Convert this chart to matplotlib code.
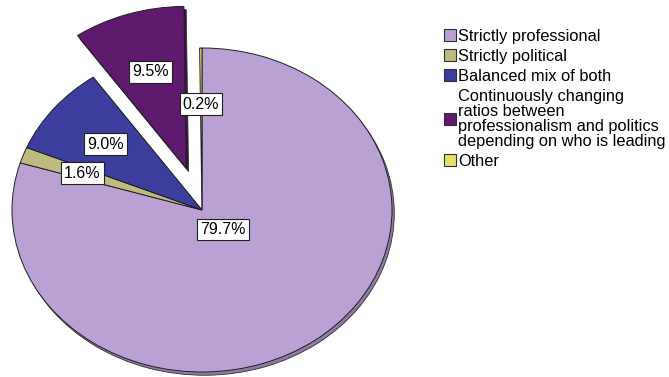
import numpy as np
import matplotlib.pyplot as plt

plt.rcParams['font.family'] = ['Liberation Sans', 'DejaVu Sans']

# data
categories = ['Strictly professional', 'Strictly political', 'Balanced mix of both',
              'Continuously changing\nratios between\nprofessionalism and politics\ndepending on who is leading',
              'Other']
shares = [79.7, 1.6, 9.0, 9.5, 0.2]
colors = ['#B9A2D3', '#BDBB7E', '#3D3D9E', '#5E1A6C', '#E6E067']
rim_colors = ['#8E79A8', '#8F8D58', '#2A2A70', '#3E0F48', '#A8A348']
explode = [0, 0, 0, 0.27, 0]

# label placement (ellipse-normalized offsets from slice apex)
label_pos = [(0.11, -0.12), (-0.63, 0.228), (-0.51, 0.407), (-0.19, 0.595), (-0.005, 0.654)]

W, H = 669, 377
cx, cy, rx, ry = 202, 210, 190, 162

fig = plt.figure(figsize=(W / 100, H / 100), dpi=100)
ax = fig.add_axes([(cx - rx) / W, (H - cy - ry) / H, 2 * rx / W, 2 * ry / H])

# thin 3D rim underneath
rim, _ = ax.pie(shares, colors=rim_colors, startangle=90, counterclock=False,
                explode=explode, center=(0.012, -0.02),
                wedgeprops=dict(edgecolor='#303030', linewidth=0.6))
wedges, _ = ax.pie(shares, colors=colors, startangle=90, counterclock=False,
                   explode=explode,
                   wedgeprops=dict(edgecolor='#202020', linewidth=0.7))
for w in list(rim) + list(wedges):
    w.set_clip_on(False)

ax.set_aspect('auto')
ax.set_xlim(-1, 1)
ax.set_ylim(-1, 1)
ax.axis('off')

theta = 90.0
for i, (v, (lx, ly)) in enumerate(zip(shares, label_pos)):
    mid = np.deg2rad(theta - v * 3.6 / 2)
    theta -= v * 3.6
    ox, oy = explode[i] * np.cos(mid), explode[i] * np.sin(mid)
    ax.text(ox + lx, oy + ly, f'{v:.1f}%', ha='center', va='center', fontsize=11.5,
            bbox=dict(boxstyle='square,pad=0.2', facecolor='white',
                      edgecolor='#202020', linewidth=0.8), zorder=5)

handles = [plt.Rectangle((0, 0), 1, 1, facecolor=c, edgecolor='#303030', linewidth=0.8)
           for c in colors]
leg = fig.legend(handles, categories, loc='upper left', bbox_to_anchor=(444 / W, 1 - 29 / H),
                 frameon=False, fontsize=11.8, handlelength=0.72, handleheight=0.72,
                 handletextpad=0.12, labelspacing=0.3, borderaxespad=0, borderpad=0)
for t in leg.get_texts():
    t.set_linespacing(1.0)

fig.savefig('out.png', dpi=100, facecolor='white')
